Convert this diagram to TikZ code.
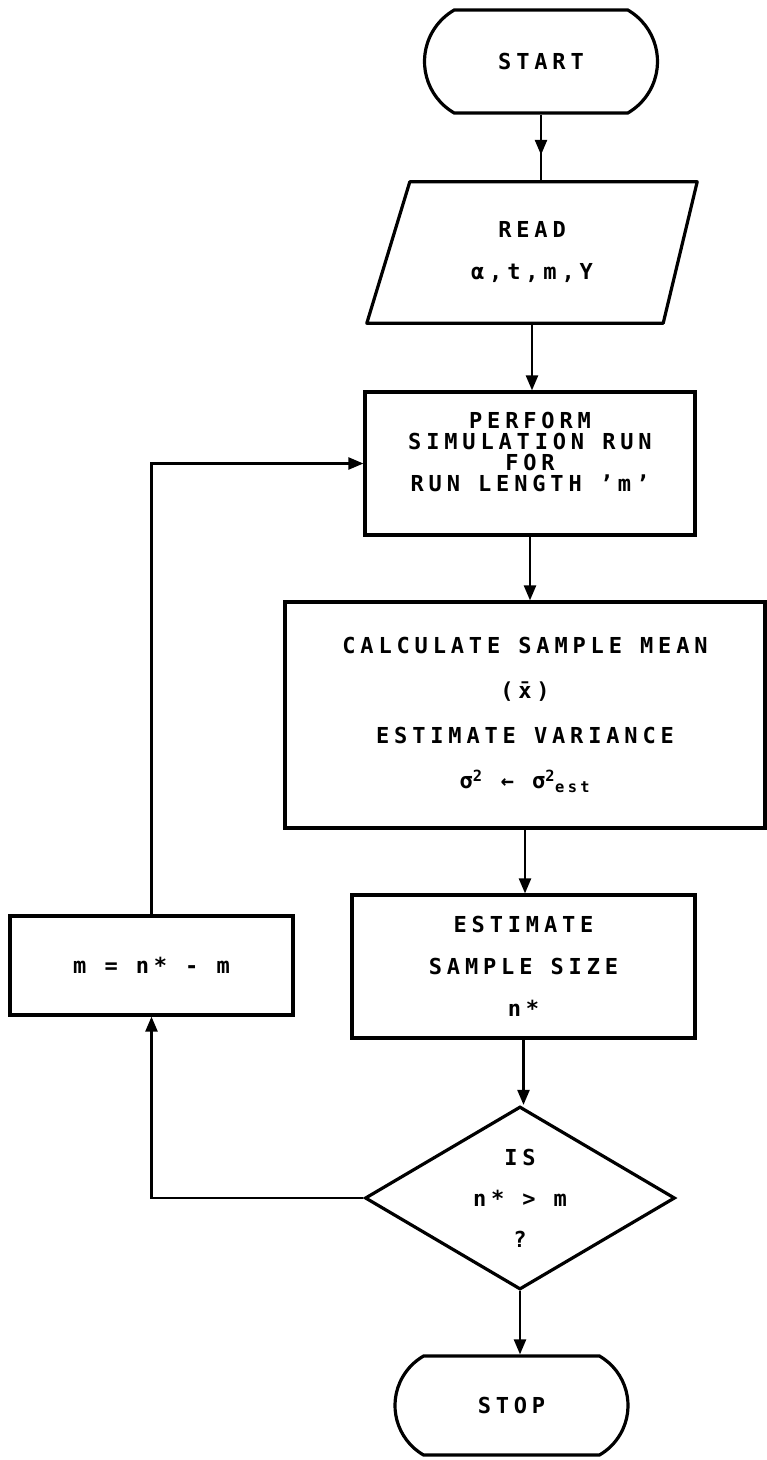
\documentclass[tikz,border=0pt]{standalone}
\usepackage{fontspec}
\newfontfamily\plotfont[LetterSpace=22]{DejaVu Sans Mono}
\usetikzlibrary{arrows.meta,shapes.geometric,shapes.misc,decorations.markings}

\begin{document}
\begin{tikzpicture}[x=1pt,y=-1pt,>={Triangle[length=15pt,width=12pt]},
  every node/.style={font=\plotfont\bfseries\fontsize{22}{42}\selectfont,align=center,inner sep=0pt},
  box/.style={draw,line width=3.2pt,rectangle},
  term/.style={draw,line width=3.2pt,rounded rectangle,rounded rectangle arc length=120},
  cond/.style={draw,line width=3.2pt,diamond,aspect=1.7},
  link/.style={line width=2.3pt},
  midarr/.style={postaction={decorate},decoration={markings,mark=at position 0.6 with {\arrow{>}}}}]
  \useasboundingbox (0,0) rectangle (767,1460);
  % main column
  \node[term,minimum width=233,minimum height=103] (start) at (541,61.5) {START};
  \node[minimum width=330,minimum height=141] (read) at (532,252.5) {READ\\α,t,m,Y};
  \draw[line width=3.2pt,line join=round] ([xshift=43pt]read.north west) -- (read.north east) -- ([xshift=-34pt]read.south east) -- (read.south west) -- cycle;
  \node[box,minimum width=330,minimum height=143] (perform) at (530,463.5) {};
  \node[font=\plotfont\bfseries\fontsize{22}{21}\selectfont] (performtxt) at (530,452) {PERFORM\\SIMULATION RUN\\FOR\\RUN LENGTH ’m’};
  \node[box,minimum width=480,minimum height=226,font=\plotfont\bfseries\fontsize{22}{45}\selectfont] (calc) at (525,715)
    {CALCULATE SAMPLE MEAN\\(\={x})\\ESTIMATE VARIANCE\\σ\textsuperscript{2} ← σ\textsuperscript{2}\textsubscript{est}};
  \node[box,minimum width=343,minimum height=143] (est) at (523.5,966.5) {ESTIMATE\\SAMPLE SIZE\\n*};
  \node[cond,minimum width=310,minimum height=183,font=\plotfont\bfseries\fontsize{22}{41}\selectfont] (dec) at (520,1198) {IS\\n* > m\\?};
  \node[term,minimum width=233,minimum height=99] (stop) at (511.5,1405.5) {STOP};
  % loop back
  \node[box,minimum width=283,minimum height=99] (upd) at (151.5,965.5) {m = n* - m};
  % connectors
  \draw[link,midarr] (start.south) -- (start.south |- read.north);
  \draw[link,->] (read.south) -- (read.south |- perform.north);
  \draw[link,->] (perform.south) -- (perform.south |- calc.north);
  \draw[link,->] (calc.south) -- (calc.south |- est.north);
  \draw[link,->] (est.south) -- (est.south |- dec.north);
  \draw[link,->] (dec.south) -- (dec.south |- stop.north);
  \draw[link,->] (dec.west) -| (upd.south);
  \draw[link,->] (upd.north) |- (perform.west);
\end{tikzpicture}
\end{document}
